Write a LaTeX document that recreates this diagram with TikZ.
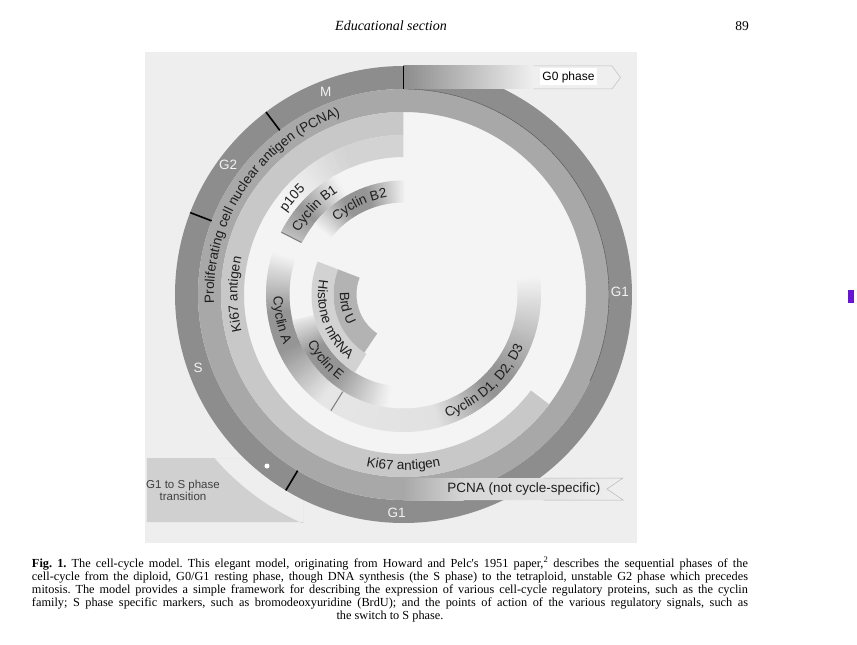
\documentclass[tikz,border=0pt]{standalone}
\usepackage{fontspec}
\setmainfont{Liberation Sans}
\newfontfamily\pagefont{Liberation Serif}
\usepackage{xcolor}
\usepackage{tikz}
\usetikzlibrary{decorations.text, positioning}
\definecolor{figbg}{HTML}{EEEEEE}
\definecolor{innerbg}{HTML}{F4F4F4}
\definecolor{phasegrey}{HTML}{8D8D8D}
\definecolor{pcnagrey}{HTML}{A8A8A8}
\definecolor{kigrey}{HTML}{C8C8C8}
\definecolor{histgrey}{HTML}{D2D2D2}
\definecolor{brdugrey}{HTML}{B3B3B3}
\definecolor{cycdark}{HTML}{959595}
\definecolor{transgrey}{HTML}{D0D0D0}
\definecolor{flagmid}{HTML}{D6D6D6}
\definecolor{flaglight}{HTML}{EFEFEF}
\definecolor{ringline}{HTML}{4A4A4A}
\definecolor{labelink}{HTML}{1E1E1E}
\definecolor{phaselabel}{HTML}{F2F2F2}
\definecolor{tickgrey}{HTML}{7A7A7A}
\definecolor{markbar}{RGB}{105,20,210}

% annulus sector: [fill]{r in}{r out}{from}{to}
\newcommand{\bandseg}[5][]{%
  \fill[#1] (#4:#3) arc[start angle=#4, end angle=#5, radius=#3] -- (#5:#2) arc[start angle=#5, end angle=#4, radius=#2] -- cycle;}
% annulus sector shaded along the angle: [colour]{r in}{r out}{from}{to}{% from}{% to}
\newcommand{\bandfade}[7][cycdark]{%
  \pgfmathtruncatemacro{\fadesteps}{max(1,round(abs(#5-#4)))}%
  \foreach \k in {1,...,\fadesteps}{%
    \pgfmathsetmacro{\fa}{#4+(#5-#4)*(\k-1)/\fadesteps}%
    \pgfmathsetmacro{\fb}{#4+(#5-#4)*(\k+0.3)/\fadesteps}%
    \pgfmathtruncatemacro{\fp}{round(#6+(#7-#6)*(\k-0.5)/\fadesteps)}%
    \fill[#1!\fp!innerbg] (\fa:#3) arc[start angle=\fa, end angle=\fb, radius=#3] -- (\fb:#2) arc[start angle=\fb, end angle=\fa, radius=#2] -- cycle;
  }}

\begin{document}
\begin{tikzpicture}[x=1pt, y=1pt,
    phaselab/.style={text=phaselabel, font=\fontsize{13.5}{15}\selectfont, inner sep=0pt},
    arctext/.style={decorate, decoration={text along path, text align=center, text color=labelink,
        text={|\fontsize{13.5}{15}\selectfont|#1}}},
    tickline/.style={line width=1.6pt, black},
    innertick/.style={line width=1pt, tickgrey},
    captionline/.style={font=\pagefont\fontsize{12.3}{13}\selectfont\frenchspacing, inner sep=0pt, anchor=base},
]
    \useasboundingbox (-403.5,-350.5) rectangle (453.5,294.5);
    \fill[white] (-403.5,-350.5) rectangle (453.5,294.5);
    \fill[figbg] (-258.5,-248.5) rectangle (233.5,242.5);

    % G1 to S transition wedge
    \begin{scope}
        \clip (-256.5,-227.5) rectangle (-100,-163.5);
        \fill[transgrey, even odd rule] (-256.5,-227.5) rectangle (-100,-163.5) (0,0) circle[radius=250];
    \end{scope}

    % outer rings
    \fill[innerbg] (0,0) circle[radius=205.5];
    \fill[phasegrey, even odd rule] (0,0) circle[radius=228.5] circle[radius=205.5];
    \fill[pcnagrey, even odd rule] (0,0) circle[radius=205.5] circle[radius=182.5];
    \draw[line width=0.4pt, ringline] (90:205.5) arc[start angle=90, end angle=-25, radius=205.5];
    \bandseg[kigrey]{159.5}{182.5}{90}{323}
    \bandfade{137.5}{159.5}{90}{112}{35}{35}
    \bandfade{137.5}{159.5}{112}{140}{35}{0}

    % cyclin ring
    \bandfade{114}{137.5}{153}{140}{55}{100}
    \bandfade{114}{137.5}{140}{120}{100}{0}
    \bandfade{114}{137.5}{162}{188}{0}{100}
    \bandfade{114}{137.5}{188}{205}{100}{100}
    \bandfade{114}{137.5}{205}{232}{100}{15}
    \bandfade{114}{137.5}{232}{285}{15}{20}
    \bandfade{114}{137.5}{285}{312}{20}{100}
    \bandfade{114}{137.5}{312}{322}{100}{100}
    \bandfade{114}{137.5}{322}{368}{100}{0}
    % cyclin B2 / E ring
    \bandfade{92}{114}{142}{122}{0}{100}
    \bandfade{92}{114}{122}{110}{100}{100}
    \bandfade{92}{114}{110}{90}{100}{5}
    \bandfade{92}{114}{193}{212}{10}{100}
    \bandfade{92}{114}{212}{230}{100}{100}
    \bandfade{92}{114}{230}{262}{100}{0}
    % S phase markers
    \bandseg[histgrey]{70}{92}{159}{238}
    \bandseg[brdugrey]{47}{70}{159}{236}

    % G0 arrow
    \fill[flaglight] (0,205.5) -- (208.5,205.5) -- (217,217) -- (208.5,228.5) -- (0,228.5) -- cycle;
    \shade[left color=phasegrey, right color=flaglight] (0,205.5) rectangle (130,228.5);
    \draw[line width=0.5pt, black!25] (130,228.5) -- (208.5,228.5) -- (217,217) -- (208.5,205.5) -- (130,205.5);
    \node[fill=white, minimum width=57pt, minimum height=17pt, inner sep=0pt,
          font=\fontsize{12}{14}\selectfont] (gzero) at (165,217.5) {G0 phase};

    % PCNA flag
    \shade[left color=pcnagrey, right color=flagmid] (0,-205.5) rectangle (60,-183.5);
    \shade[left color=flagmid, right color=flaglight] (60,-183.5) -- (219.5,-183.5) -- (203.5,-194.5) -- (219.5,-205.5) -- (60,-205.5) -- cycle;
    \draw[line width=0.5pt, black!28] (140,-183.5) -- (219.5,-183.5) -- (203.5,-194.5) -- (219.5,-205.5) -- (140,-205.5);
    \node[font=\fontsize{13.5}{15}\selectfont, text=labelink] (pcnaflag) at (120.5,-195) {PCNA (not cycle-specific)};

    % phase borders
    \foreach \a in {127,159,239} \draw[tickline] (\a:205.5) -- (\a:228.5);
    \draw[tickline, line width=1.2pt] (90:205.5) -- (90:228.5);
    \foreach \a in {153,238} \draw[innertick] (\a:114.5) -- (\a:137);
    \fill[white] (-136.5,-171.5) circle[radius=2.5];

    % phase names
    \node[phaselab] (labM) at (111:217) {M};
    \node[phaselab] (labGtwo) at (143.6:218) {G2};
    \node[phaselab] (labS) at (199.6:218) {S};
    \node[phaselab] (labGoneR) at (0.8:216.5) {G1};
    \node[phaselab] (labGoneB) at (268.2:218.5) {G1};
    \node[font=\fontsize{11.5}{12.5}\selectfont, align=center, text=labelink!85] (trans) at (-220.5,-196) {G1 to S phase\\transition};

    % ring labels
    \path[arctext={Proliferating cell nuclear antigen (PCNA)}] (206:189.5) arc[start angle=206, end angle=86, radius=189.5];
    \path[arctext={Ki67 antigen}] (215:166) arc[start angle=215, end angle=145, radius=166];
    \path[arctext={Ki67 antigen}] (235:175.5) arc[start angle=235, end angle=305, radius=175.5];
    \path[arctext={p105}] (160:143.5) arc[start angle=160, end angle=118, radius=143.5];
    \path[arctext={Cyclin B1}] (166:121.5) arc[start angle=166, end angle=106, radius=121.5];
    \path[arctext={Cyclin B2}] (150:98.5) arc[start angle=150, end angle=82, radius=98.5];
    \path[arctext={Cyclin A}] (160:130) arc[start angle=160, end angle=224, radius=130];
    \path[arctext={Cyclin D1, D2, D3}] (268:130.5) arc[start angle=268, end angle=358, radius=130.5];
    \path[arctext={Cyclin E}] (195:107.5) arc[start angle=195, end angle=245, radius=107.5];
    \path[arctext={Histone mRNA}] (160:85.5) arc[start angle=160, end angle=240, radius=85.5];
    \path[arctext={Brd U}] (165:63.5) arc[start angle=165, end angle=222, radius=63.5];

    % page text
    \node[font=\pagefont\itshape\fontsize{14}{16}\selectfont, anchor=base] (header) at (-12.5,263.5) {Educational section};
    \node[font=\pagefont\fontsize{13.5}{15}\selectfont, anchor=base] (pagenum) at (338.5,263.5) {89};
    \node[captionline] (capA) at (-13.5,-272.5) {\makebox[716pt][s]{\textbf{Fig. 1.} The cell-cycle model. This elegant model, originating from Howard and Pelc's 1951 paper,\textsuperscript{2} describes the sequential phases of the}};
    \node[captionline] (capB) at (-13.5,-285.5) {\makebox[716pt][s]{cell-cycle from the diploid, G0/G1 resting phase, though DNA synthesis (the S phase) to the tetraploid, unstable G2 phase which precedes}};
    \node[captionline] (capC) at (-13.5,-298.5) {\makebox[716pt][s]{mitosis. The model provides a simple framework for describing the expression of various cell-cycle regulatory proteins, such as the cyclin}};
    \node[captionline] (capD) at (-13.5,-311.5) {\makebox[716pt][s]{family; S phase specific markers, such as bromodeoxyuridine (BrdU); and the points of action of the various regulatory signals, such as}};
    \node[captionline] (capE) at (-13.5,-324.5) {the switch to S phase.};

    \fill[markbar] (444.5,-8.5) rectangle (450.5,4.5);
\end{tikzpicture}
\end{document}
